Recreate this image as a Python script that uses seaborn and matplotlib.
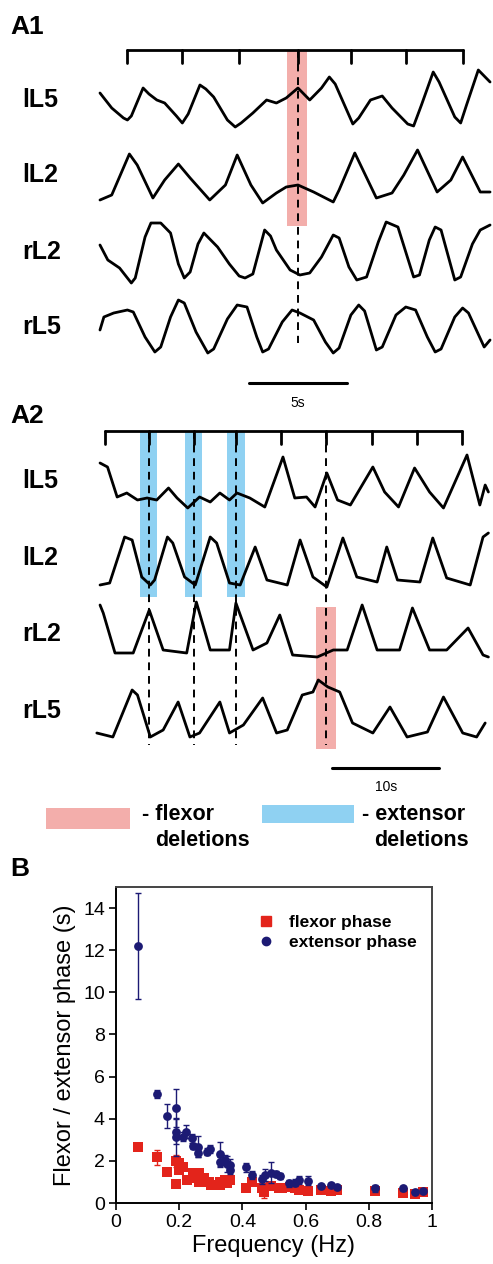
import numpy as np
import matplotlib
matplotlib.use("Agg")
import matplotlib.pyplot as plt
from matplotlib.patches import Rectangle
from matplotlib.lines import Line2D
import seaborn as sns

# ============================
# DATA
# ============================
# A1 traces: time (s) and amplitude (a.u.)
a1_l5_t = [0.0, 0.6, 1.2, 1.4, 1.6, 2.2, 2.5, 2.9, 3.3, 3.9, 4.2, 4.5, 5.1, 5.4, 5.8, 6.5, 6.9,
           7.2, 7.8, 8.5, 9.0, 9.5, 10.1, 10.7, 11.3, 11.7, 12.0, 12.9, 13.2, 13.8, 14.4, 14.9,
           15.7, 16.0, 16.4, 17.0, 17.3, 18.1, 18.4, 18.7, 19.3, 19.9]
a1_l5_v = [0.7, -0.8, -1.8, -2.0, -1.6, 1.2, 0.6, 0.0, -0.3, -1.6, -2.3, -1.4, 1.5, 1.1, 0.3, -2.0,
           -2.7, -2.3, -1.3, 0.0, -0.3, 0.2, 1.2, 0.0, 1.2, 2.3, 1.6, -2.4, -1.8, 0.0, 0.4, -0.8,
           -2.4, -2.6, -0.5, 2.8, 1.8, -1.7, -2.3, -0.5, 3.0, 1.8]
a1_l2_t = [0.0, 0.6, 1.5, 1.9, 2.7, 3.3, 4.0, 4.6, 5.6, 6.4, 7.0, 7.7, 8.3, 9.0, 9.5, 10.1, 10.9,
           11.9, 12.2, 13.0, 14.1, 14.9, 15.5, 16.2, 17.2, 17.9, 18.5, 19.4, 19.9]
a1_l2_v = [-2.2, -1.7, 2.4, 1.3, -2.0, -0.2, 1.4, 0.0, -2.2, -0.7, 2.3, -0.7, -2.5, -1.5, -0.9,
           -0.7, -1.4, -2.4, -1.2, 2.5, -2.0, -1.5, 0.3, 2.8, -1.4, -0.2, 2.1, -1.4, -1.4]
a1_r2_t = [0.0, 0.4, 1.0, 1.4, 1.6, 1.8, 2.3, 2.6, 3.1, 3.6, 4.0, 4.3, 4.6, 5.0, 5.3, 6.0, 6.6,
           7.1, 7.4, 7.8, 8.4, 8.7, 9.0, 9.7, 10.2, 10.7, 11.3, 11.9, 12.2, 12.7, 13.1, 13.6,
           14.2, 14.6, 15.2, 15.6, 16.0, 16.3, 16.8, 17.1, 17.4, 18.1, 18.4, 19.0, 19.4, 19.9]
a1_r2_v = [0.7, -0.8, -1.6, -2.6, -3.1, -2.6, 1.5, 2.9, 2.9, 1.9, -1.2, -2.6, -2.0, 0.8, 1.9, 0.5,
           -1.2, -2.4, -2.6, -2.2, 2.2, 1.6, 0.2, -1.8, -2.3, -2.1, -0.5, 1.7, 1.4, -1.5, -2.8,
           -2.5, 1.0, 3.0, 2.5, 0.0, -2.5, -2.3, 1.2, 2.5, 2.2, -2.8, -2.5, 0.8, 2.2, 2.7]
a1_r5_t = [0.0, 0.2, 0.7, 1.4, 1.7, 2.3, 2.8, 3.1, 3.6, 4.0, 4.3, 4.9, 5.5, 5.8, 6.5, 7.0, 7.5,
           8.0, 8.3, 8.6, 9.3, 9.8, 10.2, 10.9, 11.5, 11.9, 12.2, 12.8, 13.2, 13.5, 14.1, 14.4,
           15.1, 15.6, 16.1, 16.7, 17.1, 17.4, 18.1, 18.5, 18.8, 19.6, 19.9]
a1_r5_v = [-0.3, 1.0, 1.4, 1.7, 1.5, -1.0, -2.5, -2.0, 1.0, 2.7, 2.4, -0.5, -2.6, -2.2, 0.8, 2.2,
           2.0, -1.0, -2.5, -2.2, 0.5, 1.7, 1.4, 0.7, -1.5, -2.6, -2.1, 1.2, 2.2, 1.6, -2.3, -2.0,
           1.2, 2.0, 1.7, -1.0, -2.5, -2.2, 1.0, 1.9, 1.4, -2.0, -1.3]
a1_marks = [1.4, 4.2, 7.1, 10.1, 12.8, 15.6, 18.5]
a1_flexor_del = (9.54, 10.56)

# A2 traces
a2_l5_t = [0.0, 0.7, 1.6, 2.5, 3.5, 4.4, 5.3, 6.4, 7.2, 8.2, 9.3, 10.3, 11.2, 12.1, 12.8, 14.0,
           15.4, 17.1, 18.2, 19.3, 20.1, 21.2, 22.2, 23.4, 25.5, 26.6, 27.9, 29.4, 30.8, 32.1,
           34.3, 35.5, 36.0, 36.3]
a2_l5_v = [1.9, 1.5, -1.5, -1.1, -1.8, -1.6, -1.8, -0.6, -1.6, -2.6, -1.5, -2.0, -1.1, -1.8, -1.1,
           -1.6, -2.5, 2.5, -1.6, -1.5, -2.5, 0.9, -1.8, -2.3, 1.5, -1.0, -2.5, 1.4, -1.0, -2.6,
           2.7, -2.3, -0.3, -1.0]
a2_l2_t = [0.0, 0.9, 2.3, 3.0, 3.9, 4.7, 5.1, 6.3, 6.8, 7.9, 8.9, 10.3, 10.9, 12.1, 13.1, 14.5,
           15.6, 17.5, 18.7, 19.9, 21.2, 22.7, 24.0, 25.9, 26.8, 27.8, 29.9, 31.1, 32.4, 34.6,
           35.8, 36.3]
a2_l2_v = [-2.7, -2.5, 2.1, 1.8, -1.9, -2.7, -2.2, 2.1, 1.5, -1.9, -2.7, 2.1, 1.5, -2.5, -2.7, 1.1,
           -2.2, -2.7, 1.8, -1.9, -2.9, 2.0, -1.9, -2.4, 1.1, -2.2, -2.4, 2.0, -2.0, -2.7, 2.1, 2.5]
a2_r2_t = [0.0, 0.3, 1.4, 3.1, 4.6, 5.9, 8.1, 9.0, 10.3, 12.1, 12.7, 14.3, 15.6, 16.8, 18.0, 20.3,
           21.8, 23.1, 24.5, 25.9, 28.0, 29.2, 30.8, 32.4, 34.4, 35.8, 36.3]
a2_r2_v = [2.2, 1.4, -2.6, -2.6, 1.7, -2.3, -2.6, 2.5, -2.3, -2.3, 2.4, -2.3, -1.6, 1.2, -2.8, -3.0,
           -2.3, -2.3, 2.2, -2.3, -2.3, 1.9, -2.3, -2.3, -0.1, -2.8, -3.0]
a2_r5_t = [-0.3, 1.2, 3.0, 3.5, 4.7, 5.9, 7.3, 8.4, 9.3, 11.2, 12.1, 13.4, 15.2, 16.5, 17.5, 18.9,
           19.9, 20.4, 21.3, 22.4, 23.6, 25.5, 27.1, 28.7, 30.6, 32.1, 33.9, 35.2, 36.0]
a2_r5_v = [-2.3, -2.7, 2.0, 1.5, -2.7, -2.0, 0.8, -2.7, -2.3, 0.8, -2.3, -1.5, 1.2, -2.3, -2.0, 1.5,
           1.8, 3.0, 2.3, 1.8, -1.3, -2.3, 0.3, -2.7, -2.2, 1.3, -2.3, -2.7, -1.3]
a2_marks = [0.47, 4.58, 8.79, 12.71, 16.92, 21.12, 25.42, 29.63, 33.83]
a2_extensor_del = [(3.74, 5.33), (7.94, 9.53), (11.87, 13.55)]
a2_flexor_del = (20.19, 22.06)
a2_dashed = [4.58, 8.79, 12.71, 21.12]

# B: frequency (Hz) vs phase duration (s)
flx_f = [0.07, 0.131, 0.16, 0.19, 0.19, 0.2, 0.2, 0.211, 0.225, 0.244, 0.257, 0.263, 0.263, 0.28,
         0.295, 0.3, 0.33, 0.33, 0.345, 0.35, 0.36, 0.41, 0.43, 0.461, 0.468, 0.489, 0.515, 0.525,
         0.55, 0.565, 0.58, 0.609, 0.649, 0.679, 0.698, 0.82, 0.909, 0.946, 0.97]
flx_p = [2.67, 2.17, 1.46, 1.99, 0.89, 1.88, 1.57, 1.73, 1.09, 1.41, 1.17, 1.44, 1.01, 1.17, 1.01,
         0.85, 1.0, 0.85, 1.09, 0.93, 1.09, 0.72, 1.0, 0.72, 0.54, 0.79, 0.69, 0.69, 0.74, 0.69,
         0.63, 0.55, 0.63, 0.55, 0.63, 0.55, 0.47, 0.44, 0.5]
flx_err = [0.1, 0.35, 0.1, 0.3, 0.1, 0.1, 0.1, 0.1, 0.1, 0.1, 0.1, 0.1, 0.1, 0.1, 0.1, 0.1, 0.1,
           0.1, 0.1, 0.1, 0.1, 0.1, 0.1, 0.1, 0.3, 0.1, 0.1, 0.1, 0.1, 0.1, 0.1, 0.1, 0.1, 0.1,
           0.1, 0.1, 0.1, 0.1, 0.1]
ext_f = [0.07, 0.131, 0.16, 0.19, 0.19, 0.19, 0.211, 0.22, 0.24, 0.244, 0.26, 0.26, 0.289, 0.297,
         0.33, 0.33, 0.345, 0.35, 0.36, 0.36, 0.41, 0.43, 0.461, 0.47, 0.49, 0.507, 0.52, 0.548,
         0.567, 0.58, 0.609, 0.649, 0.679, 0.698, 0.82, 0.909, 0.946, 0.97]
ext_p = [12.2, 5.17, 4.14, 4.49, 3.38, 3.15, 3.15, 3.38, 3.07, 2.70, 2.67, 2.36, 2.44, 2.55, 2.31,
         1.96, 2.04, 1.85, 1.80, 1.57, 1.69, 1.33, 1.12, 1.33, 1.44, 1.38, 1.28, 0.93, 0.97, 1.09,
         1.06, 0.82, 0.85, 0.77, 0.69, 0.69, 0.54, 0.58]
ext_err = [2.5, 0.2, 0.57, 0.9, 0.6, 0.9, 0.2, 0.3, 0.2, 0.15, 0.5, 0.2, 0.15, 0.2, 0.6, 0.2, 0.25,
           0.4, 0.3, 0.2, 0.2, 0.2, 0.2, 0.3, 0.5, 0.15, 0.15, 0.15, 0.15, 0.2, 0.2, 0.1, 0.1, 0.1,
           0.15, 0.1, 0.1, 0.1]

RED = "#e3241b"
NAVY = "#1c1a74"
PINK = "#f3aeab"
BLUE = "#8fd1f2"

sns.set_style("white")
plt.rcParams['font.family'] = ['Liberation Sans', 'DejaVu Sans']
plt.rcParams.update({"text.color": "black", "axes.labelcolor": "black",
                     "xtick.color": "black", "ytick.color": "black"})

W, H = 493, 1264
fig = plt.figure(figsize=(W / 100, H / 100), dpi=100)


def px_axes(top, bottom, left=0, right=W):
    return fig.add_axes([left / W, 1 - bottom / H, (right - left) / W, (bottom - top) / H])


def fig_text(x, y, s, **kw):
    fig.text(x / W, 1 - y / H, s, **kw)


def draw_traces(ax, traces):
    for name, t, v, off, label_y in traces:
        sns.lineplot(x=t, y=np.array(v) + off, ax=ax, color="black", lw=2.0,
                     estimator=None, sort=False, zorder=3, solid_joinstyle="round")
        fig_text(22, label_y, name, fontsize=18, fontweight="bold", va="center", ha="left")


def bracket(ax, marks, y, depth):
    ax.plot([marks[0], marks[-1]], [y, y], color="black", lw=2, zorder=4)
    for m in marks:
        ax.plot([m, m], [y, y - depth], color="black", lw=2, zorder=4)


# ============================
# A1
# ============================
axA1 = px_axes(0, 410)
axA1.set_xlim(-5.1, 20.05)
axA1.set_ylim(-41, 0)
axA1.axis("off")
draw_traces(axA1, [("lL5", a1_l5_t, a1_l5_v, -10.0, 100),
                   ("lL2", a1_l2_t, a1_l2_v, -17.8, 175),
                   ("rL2", a1_r2_t, a1_r2_v, -25.2, 252),
                   ("rL5", a1_r5_t, a1_r5_v, -32.7, 327)])
bracket(axA1, a1_marks, -5.0, 1.3)
axA1.fill_between(a1_flexor_del, -22.6, -5.0, color=PINK, lw=0, zorder=1)
axA1.plot([a1_marks[3]] * 2, [-5.0, -34.3], color="black", lw=1.4, ls=(0, (4, 3)), zorder=4)
axA1.plot([7.6, 12.6], [-38.3, -38.3], color="black", lw=2.2)
axA1.text(10.1, -40.3, "5s", fontsize=10, ha="center", va="center")
fig_text(10, 27, "A1", fontsize=19, fontweight="bold", va="center")

# ============================
# A2
# ============================
axA2 = px_axes(410, 800)
axA2.set_xlim(-9.35, 36.73)
axA2.set_ylim(-80, -41)
axA2.axis("off")
draw_traces(axA2, [("lL5", a2_l5_t, a2_l5_v, -48.2, 481),
                   ("lL2", a2_l2_t, a2_l2_v, -55.8, 558),
                   ("rL2", a2_r2_t, a2_r2_v, -62.7, 634),
                   ("rL5", a2_r5_t, a2_r5_v, -71.0, 711)])
bracket(axA2, a2_marks, -43.1, 1.3)
for span in a2_extensor_del:
    axA2.fill_between(span, -59.7, -43.1, color=BLUE, lw=0, zorder=1)
axA2.fill_between(a2_flexor_del, -74.9, -60.7, color=PINK, lw=0, zorder=1)
for d in a2_dashed:
    axA2.plot([d, d], [-43.1, -74.5], color="black", lw=1.4, ls=(0, (4, 3)), zorder=4)
axA2.plot([21.7, 31.7], [-76.8, -76.8], color="black", lw=2.2)
axA2.text(26.7, -78.7, "10s", fontsize=10, ha="center", va="center")
fig_text(10, 416, "A2", fontsize=19, fontweight="bold", va="center")

# deletion key
fig.add_artist(Rectangle((46 / W, 1 - 829 / H), 84 / W, 21 / H, color=PINK, lw=0,
                         transform=fig.transFigure))
fig.add_artist(Rectangle((262 / W, 1 - 823 / H), 92 / W, 18 / H, color=BLUE, lw=0,
                         transform=fig.transFigure))
fig_text(142, 815, "- flexor", fontsize=15.5, fontweight="bold", va="center")
fig_text(155, 841, "deletions", fontsize=15.5, fontweight="bold", va="center")
fig_text(362, 815, "- extensor", fontsize=15.5, fontweight="bold", va="center")
fig_text(374, 841, "deletions", fontsize=15.5, fontweight="bold", va="center")

# ============================
# B
# ============================
fig_text(10, 869, "B", fontsize=19, fontweight="bold", va="center")
axB = px_axes(887, 1203, 116, 432)
axB.errorbar(flx_f, flx_p, yerr=flx_err, fmt="none", ecolor=RED, elinewidth=1,
             capsize=2.5, zorder=2)
sns.scatterplot(x=flx_f, y=flx_p, marker="s", color=RED, s=46, linewidth=0, ax=axB, zorder=3)
axB.errorbar(ext_f, ext_p, yerr=ext_err, fmt="none", ecolor=NAVY, elinewidth=1,
             capsize=2.5, zorder=4)
sns.scatterplot(x=ext_f, y=ext_p, marker="o", color=NAVY, s=40, linewidth=0, ax=axB, zorder=5)

axB.set_xlim(0, 1)
axB.set_ylim(0, 15)
axB.set_xticks([0, 0.2, 0.4, 0.6, 0.8, 1])
axB.set_xticklabels(["0", "0.2", "0.4", "0.6", "0.8", "1"])
axB.set_yticks(range(0, 15, 2))
axB.tick_params(axis="both", direction="out", length=5, width=1.2, labelsize=14,
                bottom=True, left=True, pad=3)
for side, sp in axB.spines.items():
    sp.set_visible(True)
    sp.set_linewidth(1.4)
    sp.set_color("black" if side in ("left", "bottom") else "#444444")
axB.set_xlabel("Frequency (Hz)", fontsize=17, labelpad=3)
axB.set_ylabel("Flexor / extensor phase (s)", fontsize=17, labelpad=5)

handles = [Line2D([], [], marker="s", ls="none", color=RED, markersize=6.5),
           Line2D([], [], marker="o", ls="none", color=NAVY, markersize=6)]
axB.legend(handles, ["flexor phase", "extensor phase"], loc="upper right",
           bbox_to_anchor=(1.0, 0.96), frameon=False, handlelength=1.0,
           handletextpad=0.8, labelspacing=0.25, prop=dict(size=12.5, weight="bold"))

fig.savefig("out.png", dpi=100)
